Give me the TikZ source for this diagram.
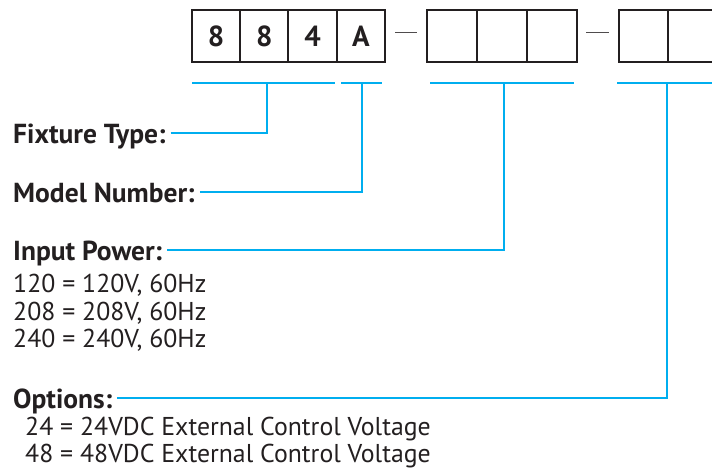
\documentclass[tikz,border=0pt]{standalone}
\usepackage{fontspec}
\setmainfont{PT Sans}
\usetikzlibrary{positioning}
\definecolor{leadblue}{RGB}{0,174,239}
\definecolor{ink}{RGB}{35,31,32}

\begin{document}
\begin{tikzpicture}[x=1pt, y=-1pt,
    cell/.style={draw=ink, line width=2pt, minimum width=48.25pt,
        minimum height=52pt, inner sep=0pt, outer sep=0pt, text=ink,
        font=\fontsize{29}{29}\selectfont\bfseries},
    head/.style={anchor=west, inner sep=0pt, text height=20pt, text depth=0pt,
        text=ink, font=\fontsize{27.5}{27.5}\selectfont\bfseries},
    body/.style={anchor=base west, inner sep=0pt, text=ink,
        font=\fontsize{25.8}{25.8}\selectfont},
    lead/.style={draw=leadblue, line width=2pt},
    link/.style={lead, shorten <=5pt},
    sep/.style={draw=ink!80, line width=1pt}
]
\useasboundingbox (0,0) rectangle (712,471);
% code boxes
\node[cell] (c1) at (216.1,36) {8};
\node[cell, right=0pt of c1] (c2) {8};
\node[cell, right=0pt of c2] (c3) {4};
\node[cell, right=0pt of c3] (c4) {A};
\node[cell, minimum width=50pt] (p1) at (452,36) {};
\node[cell, minimum width=50pt, right=0pt of p1] (p2) {};
\node[cell, minimum width=50pt, right=0pt of p2] (p3) {};
\node[cell, minimum width=49pt] (o1) at (643.5,36) {};
\node[cell, minimum width=49pt, right=0pt of o1] (o2) {};
\draw[sep] (395,32) -- (417,32);
\draw[sep] (586,32) -- (609,32);
% brackets
\coordinate (t1) at (267,83);
\coordinate (t2) at (362,83);
\coordinate (t3) at (504,83);
\coordinate (t4) at (667,83);
\draw[lead] (192,83) -- (335,83);
\draw[lead] (341,83) -- (382,83);
\draw[lead] (430,83) -- (574,83);
\draw[lead] (617,83) -- (720,83);
% labels
\node[head] (ft) at (13,133) {Fixture Type:};
\node[head] (mn) at (13,192) {Model Number:};
\node[head] (ip) at (13,250) {Input Power:};
\node[head] (op) at (13,398) {Options:};
\draw[link] (ft.east) -- (ft.east -| t1) -- (t1);
\draw[link] (mn.east) -- (mn.east -| t2) -- (t2);
\draw[link] (ip.east) -- (ip.east -| t3) -- (t3);
\draw[link] (op.east) -- (op.east -| t4) -- (t4);
\node[body] (ip1) at (13,292) {120 = 120V, 60Hz};
\node[body] (ip2) at (13,320) {208 = 208V, 60Hz};
\node[body] (ip3) at (13,347) {240 = 240V, 60Hz};
\node[body] (op1) at (25,435) {24 = 24VDC External Control Voltage};
\node[body] (op2) at (25,462) {48 = 48VDC External Control Voltage};
\end{tikzpicture}
\end{document}
